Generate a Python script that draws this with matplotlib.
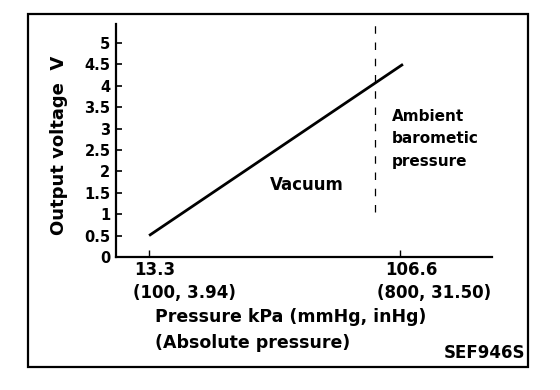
import matplotlib
matplotlib.use('Agg')
import matplotlib.pyplot as plt
from matplotlib.patches import Rectangle

plt.rcParams['font.family'] = ['DejaVu Sans']
plt.rcParams['font.weight'] = 'bold'

# sensor characteristic
pressure_kpa = [13.3, 107.7]
output_v = [0.5, 4.5]

# ambient barometric pressure marker
ambient_kpa = 97.3
ambient_v = [1.05, 5.44]

y_ticks = [0, 0.5, 1, 1.5, 2, 2.5, 3, 3.5, 4, 4.5, 5]
y_labels = ['0', '0.5', '1', '1.5', '2', '2.5', '3', '3.5', '4', '4.5', '5']
x_ticks = [13.3, 106.6]
x_labels_kpa = ['13.3', '106.6']
x_labels_mm = ['(100, 3.94)', '(800, 31.50)']
mm_offsets = [-16, -23]

W, H = 560, 390
fig = plt.figure(figsize=(W / 100, H / 100), dpi=100)

# outer frame
fig.patches.append(Rectangle((28 / W, 1 - 367 / H), 500 / W, 353 / H,
                             transform=fig.transFigure, fill=False,
                             edgecolor='black', linewidth=1.6))

ax = fig.add_axes([116 / W, 1 - 257 / H, (492 - 116) / W, (257 - 24) / H])
ax.set_facecolor('none')
ax.set_xlim(1.0, 140.8)
ax.set_ylim(0, 5.44)

ax.plot(pressure_kpa, output_v, color='black', linewidth=2.0, solid_capstyle='butt')
ax.plot([ambient_kpa, ambient_kpa], ambient_v, color='black', linewidth=0.9,
        linestyle=(0, (6, 7)))

for s in ['top', 'right']:
    ax.spines[s].set_visible(False)
for s in ['left', 'bottom']:
    ax.spines[s].set_linewidth(1.6)

ax.set_yticks(y_ticks)
ax.set_yticklabels(y_labels)
ax.tick_params(axis='y', direction='in', length=4, width=1.2, pad=4, labelsize=10.5)
ax.set_xticks(x_ticks)
ax.set_xticklabels([])
ax.tick_params(axis='x', direction='in', length=5, width=1.0)

for xt, l1, l2, off in zip(x_ticks, x_labels_kpa, x_labels_mm, mm_offsets):
    ax.annotate(l1, xy=(xt, 0), xycoords=('data', 'axes fraction'),
                xytext=(-15, -18), textcoords='offset pixels',
                ha='left', va='baseline', fontsize=12)
    ax.annotate(l2, xy=(xt, 0), xycoords=('data', 'axes fraction'),
                xytext=(off, -41), textcoords='offset pixels',
                ha='left', va='baseline', fontsize=12)

ax.set_ylabel('Output voltage  V', fontsize=13, fontweight='bold')
ax.yaxis.set_label_coords(-0.128, 0.48)

ax.text(58.3, 1.57, 'Vacuum', fontsize=12, ha='left', va='baseline')
ax.text(103.5, 3.18, 'Ambient', fontsize=11, ha='left', va='baseline')
ax.text(103.5, 2.66, 'barometic', fontsize=11, ha='left', va='baseline')
ax.text(103.5, 2.13, 'pressure', fontsize=11, ha='left', va='baseline')

fig.text(155 / W, 1 - 322 / H, 'Pressure kPa (mmHg, inHg)', fontsize=12.5,
         ha='left', va='baseline')
fig.text(155 / W, 1 - 348 / H, '(Absolute pressure)', fontsize=12.5,
         ha='left', va='baseline')
fig.text(525 / W, 1 - 358 / H, 'SEF946S', fontsize=12, ha='right', va='baseline')

fig.savefig('out.png', dpi=100)
